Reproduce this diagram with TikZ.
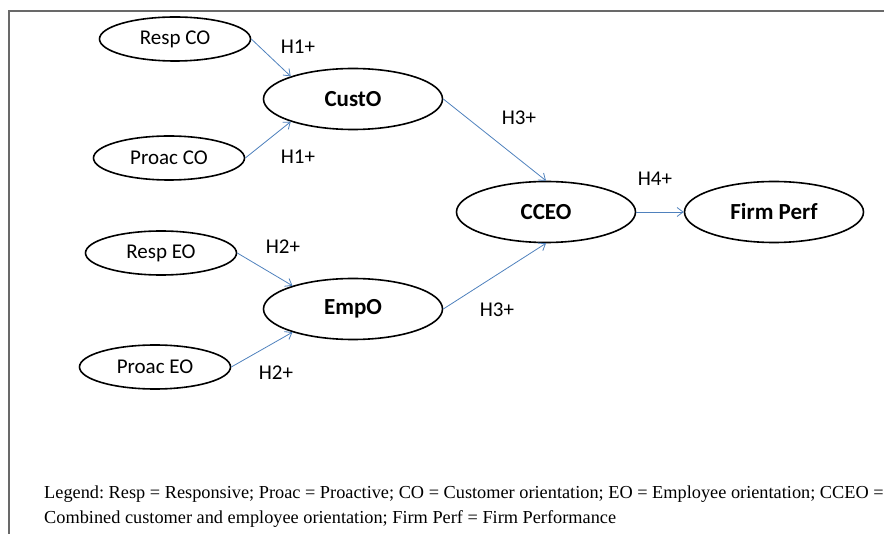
\documentclass[tikz,border=0pt]{standalone}
\usepackage{fontspec}
\setmainfont{Carlito}
\newfontfamily\legendfont{Liberation Serif}
\usetikzlibrary{shapes.geometric,arrows.meta}
\definecolor{linkblue}{RGB}{79,129,189}
\definecolor{framegray}{RGB}{105,105,105}
\frenchspacing

\begin{document}
\begin{tikzpicture}[x=1pt,y=-1pt,>={Straight Barb[length=6pt,width=9pt]},
    in node/.style={ellipse,draw,line width=1.6pt,inner sep=0pt,minimum width=151pt,minimum height=44pt,font=\fontsize{21}{24}\selectfont},
    main node/.style={ellipse,draw,line width=1.6pt,inner sep=0pt,minimum width=179pt,minimum height=61pt,font=\fontsize{23}{26}\selectfont\bfseries},
    hyp/.style={inner sep=0pt,font=\fontsize{21}{24}\selectfont},
    link/.style={->,draw=linkblue,line width=0.8pt}]

    \useasboundingbox (0,0) rectangle (884,534);
    \draw[framegray,line width=1.5pt] (9,534) -- (9,11) -- (884,11);

    \node[in node] (rco) at (175,39) {Resp CO};
    \node[in node] (pco) at (169,158) {Proac CO};
    \node[in node] (reo) at (161,253) {Resp EO};
    \node[in node] (peo) at (155,367) {Proac EO};

    \node[main node] (cust) at (353,99) {CustO};
    \node[main node] (emp) at (353,309) {EmpO};
    \node[main node] (cceo) at (546,212) {CCEO};
    \node[main node] (perf) at (774,212) {Firm Perf};

    \node[hyp] (h1a) at (298,47) {H1+};
    \node[hyp] (h1b) at (298,157) {H1+};
    \node[hyp] (h2a) at (283,247) {H2+};
    \node[hyp] (h2b) at (276,373) {H2+};
    \node[hyp] (h3a) at (519,118) {H3+};
    \node[hyp] (h3b) at (497,310) {H3+};
    \node[hyp] (h4) at (655,179) {H4+};

    \draw[link] (rco.east) to (cust.160);
    \draw[link] (pco.east) to (cust.200);
    \draw[link] (reo.east) to (emp.159);
    \draw[link] (peo.east) to (emp.201);
    \draw[link] (cust.east) to (cceo.north);
    \draw[link] (emp.east) to (cceo.south);
    \draw[link] (cceo.east) to (perf.west);

    \node[anchor=west,align=left,inner sep=0pt,font=\legendfont\fontsize{18.3}{25}\selectfont] (legend) at (44,506.5)
        {Legend: Resp = Responsive; Proac = Proactive; CO = Customer orientation; EO = Employee orientation; CCEO =\\
         Combined customer and employee orientation; Firm Perf = Firm Performance};
\end{tikzpicture}
\end{document}
